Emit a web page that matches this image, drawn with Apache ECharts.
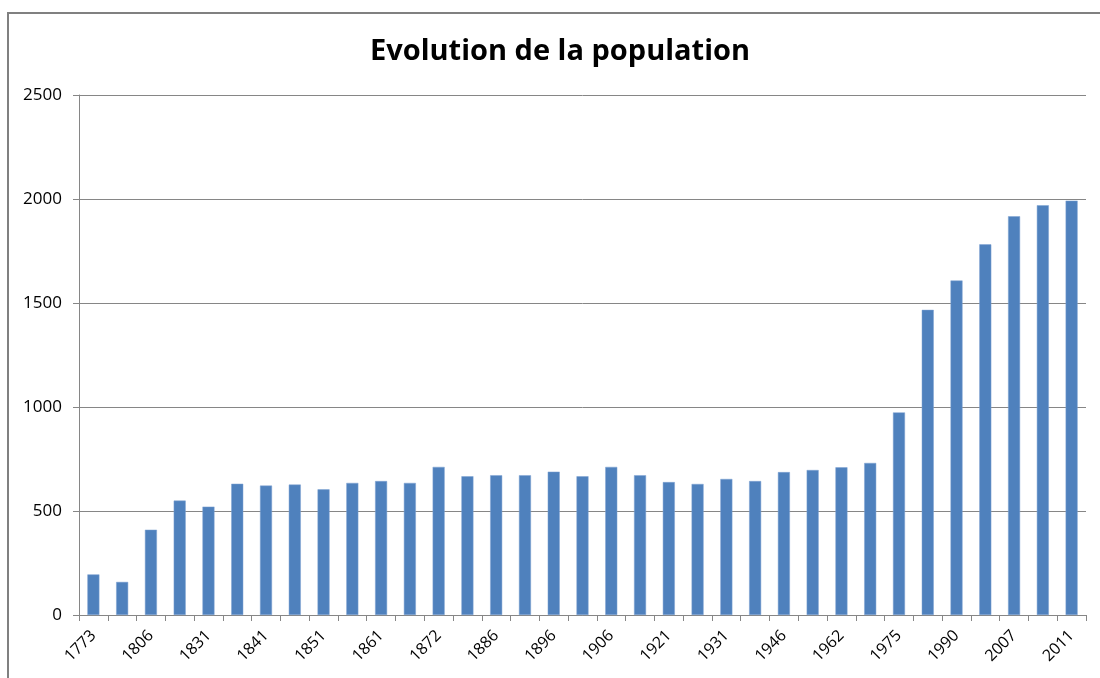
<!DOCTYPE html>
<html>
<head>
<meta charset="utf-8">
<title>Evolution de la population</title>
<script src="https://cdn.jsdelivr.net/npm/echarts@6/dist/echarts.min.js"></script>
<style>
  html, body { margin: 0; padding: 0; background: #fff; }
  #chart { width: 1100px; height: 678px; }
</style>
</head>
<body>
<div id="chart"></div>
<script>
// années des recensements (une étiquette sur deux est affichée)
var years = [
    '1773', '1793', '1806', '1821', '1831', '1836', '1841', '1846', '1851', '1856',
    '1861', '1866', '1872', '1881', '1886', '1891', '1896', '1901', '1906', '1911',
    '1921', '1926', '1931', '1936', '1946', '1954', '1962', '1968', '1975', '1982',
    '1990', '1999', '2007', '2009', '2011'
];

// population
var population = [
    195, 159, 410, 550, 521, 631, 622, 627, 604, 635,
    644, 635, 712, 667, 672, 672, 689, 667, 712, 672,
    639, 630, 654, 644, 687, 697, 710, 731, 974, 1467,
    1608, 1782, 1917, 1970, 1992
];

var yTicks = [0, 500, 1000, 1500, 2000, 2500];

var chart = echarts.init(document.getElementById('chart'));

var option = {
    backgroundColor: '#fff',
    animation: false,
    title: {
        text: 'Evolution de la population',
        left: 365,
        top: 32,
        textStyle: {
            fontFamily: 'Open Sans',
            fontWeight: 'bold',
            fontSize: 29,
            color: '#000'
        }
    },
    // cadre du graphique (gauche et haut visibles)
    graphic: [{
        type: 'rect',
        shape: { x: 8, y: 13, width: 1200, height: 800 },
        style: { fill: 'none', stroke: '#808080', lineWidth: 2 },
        silent: true
    }],
    grid: {
        left: 79,
        right: 14,
        top: 95,
        bottom: 63,
        containLabel: false
    },
    xAxis: {
        type: 'category',
        data: years,
        boundaryGap: true,
        axisLine: { lineStyle: { color: '#868686', width: 1 } },
        axisTick: {
            show: true,
            alignWithLabel: false,
            interval: 0,
            length: 6,
            lineStyle: { color: '#868686' }
        },
        axisLabel: {
            interval: 1,
            rotate: 45,
            margin: 18,
            fontFamily: 'Open Sans',
            fontSize: 16,
            color: '#000'
        }
    },
    yAxis: {
        type: 'value',
        min: yTicks[0],
        max: yTicks[yTicks.length - 1],
        interval: 500,
        axisLine: { show: true, lineStyle: { color: '#868686', width: 1 } },
        axisTick: { show: true, length: 6, lineStyle: { color: '#868686' } },
        splitLine: { show: true, lineStyle: { color: '#868686', width: 1 } },
        axisLabel: {
            margin: 17,
            fontFamily: 'Open Sans',
            fontSize: 17,
            color: '#000',
            formatter: function (v) { return String(v); }
        }
    },
    series: [{
        name: 'Population',
        type: 'bar',
        data: population,
        barWidth: 12,
        itemStyle: {
            color: '#4F81BD',
            borderColor: '#7FA3D3',
            borderWidth: 0.5
        }
    }]
};

chart.setOption(option);
</script>
</body>
</html>
